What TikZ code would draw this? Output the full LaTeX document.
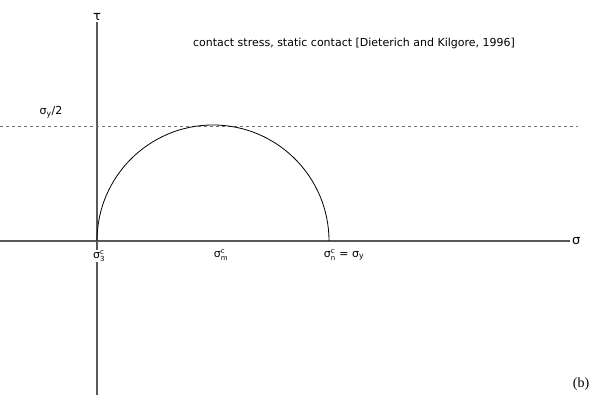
\documentclass[tikz,border=0pt]{standalone}
\usepackage{fontspec}
\setmainfont{DejaVu Sans}
\newfontfamily\tagfont{Liberation Serif}
\usepackage{tikz}
\usetikzlibrary{positioning}
\newcommand{\sig}[2]{$\mbox{σ}^{\mbox{\scriptsize #1}}_{\mbox{\scriptsize #2}}$}

\begin{document}
\begin{tikzpicture}[x=1pt,y=1pt,font=\fontsize{11}{13}\selectfont]
			\useasboundingbox (0,0) rectangle (595,404);
			\tikzset{axis/.style={draw=black!65, line width=1.3pt},
				lbl/.style={inner sep=1pt}}
			
			\coordinate (xl) at (0,163);
			\coordinate (xr) at (570,163);
			\coordinate (yb) at (97,9);
			\coordinate (yt) at (97,382);
			\coordinate (s3) at (97,163);
			\coordinate (sm) at (213,163);
			\coordinate (sn) at (329,163);
			\coordinate (dl) at (0,278);
			\coordinate (dr) at (578,278);
			
			\draw[axis] (xl) -- (xr);
			\draw[axis] (yb) -- (yt);
			\draw[black!55, dashed, line width=0.8pt] (dl) -- (dr);
			\draw[line width=0.8pt] (s3) arc[start angle=180, end angle=0, radius=116];
			
			\node[lbl, right=1pt of xr, font=\fontsize{13}{15}\selectfont] (sigma) {σ};
			\node[lbl, above=0pt of yt, font=\fontsize{13}{15}\selectfont] (tau) {τ};
			\node[lbl, font=\fontsize{11}{13}\selectfont] (title) at (354,361) {contact stress, static contact [Dieterich and Kilgore, 1996]};
			\node[lbl] (half) at (51,292) {σ\textsubscript{y}/2};
			\node[lbl, fill=white] (lab3) at (99,148) {\sig{c}{3}};
			\node[lbl] (labm) at (221,149) {\sig{c}{m}};
			\node[lbl] (labn) at (344,149) {\sig{c}{n} = σ\textsubscript{y}};
			\node[lbl, font=\tagfont\fontsize{14}{16}\selectfont] (tag) at (581,20) {(b)};
		\end{tikzpicture}
\end{document}
